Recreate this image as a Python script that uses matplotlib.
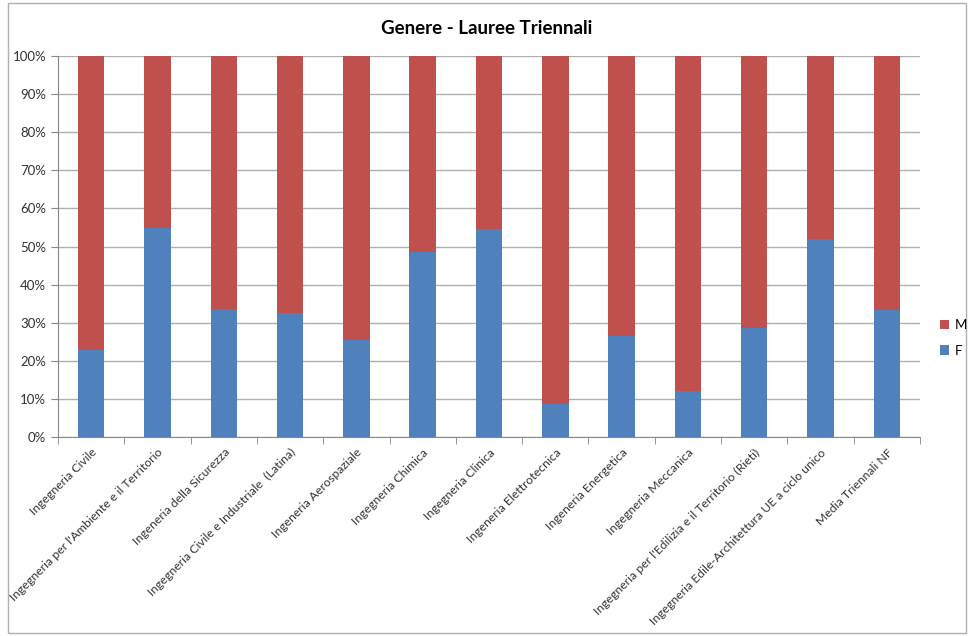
import matplotlib
matplotlib.use("Agg")
import matplotlib.pyplot as plt
import numpy as np
from matplotlib.ticker import PercentFormatter, FixedLocator

plt.rcParams['font.family'] = ['Lato', 'DejaVu Sans']

categories = [
    "Ingegneria Civile",
    "Ingegneria per l'Ambiente e il Territorio",
    "Ingeneria della Sicurezza",
    "Ingegneria Civile e Industriale  (Latina)",
    "Ingeneria Aerospaziale",
    "Ingegneria Chimica",
    "Ingegneria Clinica",
    "Ingeneria Elettrotecnica",
    "Ingeneria Energetica",
    "Ingegneria Meccanica",
    "Ingegneria per l'Edilizia e il Territorio (Rieti)",
    "Ingegneria Edile-Architettura UE a ciclo unico",
    "Media Triennali NF",
]
F = [22.8, 54.8, 33.5, 32.5, 25.4, 48.6, 54.6, 8.6, 26.5, 12.1, 28.7, 52.0, 33.3]
M = [100 - v for v in F]

fig = plt.figure(figsize=(9.69, 6.36), dpi=100)
ax = fig.add_axes([58/969, 1 - 437/636, (920-58)/969, (437-56)/636])

x = np.arange(len(categories))
ax.bar(x, F, width=0.4, color='#4f81bd', label='F', zorder=3)
ax.bar(x, M, width=0.4, bottom=F, color='#c0504d', label='M', zorder=3)

ax.set_xlim(-0.5, len(categories) - 0.5)
ax.set_ylim(0, 100)
ax.set_yticks(np.arange(0, 101, 10))
ax.yaxis.set_major_formatter(PercentFormatter(decimals=0))
ax.yaxis.grid(True, color='#b0b0b0', linewidth=1, zorder=0)

ax.set_xticks(x)
ax.set_xticklabels(categories, rotation=45, ha='right', rotation_mode='anchor', fontsize=8.8,
                   color='#333333')
ax.tick_params(axis='x', which='major', length=0, pad=7)
ax.xaxis.set_minor_locator(FixedLocator(np.arange(-0.5, len(categories), 1)))
ax.tick_params(axis='x', which='minor', length=5, color='#888888')
ax.tick_params(axis='y', labelsize=9.5, length=5, color='#888888', colors='#333333')

for s in ['top', 'right']:
    ax.spines[s].set_visible(False)
ax.spines['left'].set_color('#888888')
ax.spines['bottom'].set_color('#888888')

fig.text(487/969, 1 - 28/636, "Genere - Lauree Triennali", ha='center', va='center',
         fontsize=13.5, fontweight='bold')

handles, labels = ax.get_legend_handles_labels()
fig.legend(handles[::-1], labels[::-1], loc='center left', bbox_to_anchor=(928/969, 1 - 338/636),
           frameon=False, fontsize=9.5, handlelength=0.7, handleheight=0.7, handletextpad=0.4,
           labelspacing=1.0)

border = plt.Rectangle((8/969, 3/636), 958/969, 630/636, transform=fig.transFigure,
                       fill=False, edgecolor='#b0b0b0', linewidth=1)
fig.patches.append(border)

fig.savefig("out.png", dpi=100)
